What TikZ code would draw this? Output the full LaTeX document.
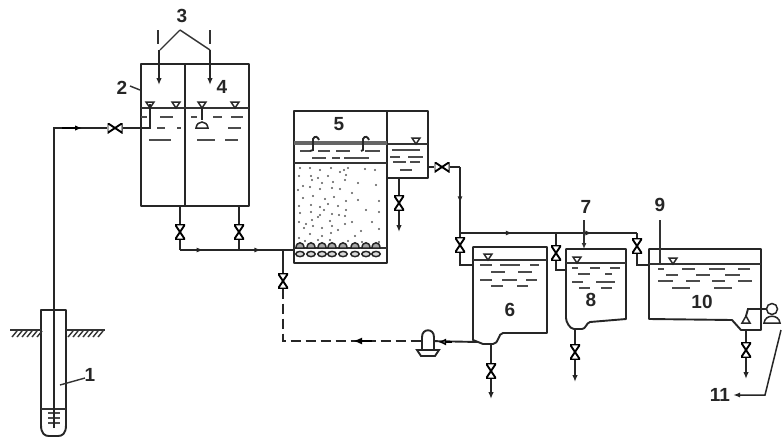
\documentclass[tikz,border=0pt]{standalone}
\usepackage{fontspec}
\setmainfont{Liberation Sans}
\usetikzlibrary{arrows.meta,decorations.markings}
\tikzset{
  x=1pt,y=-1pt,
  pipe/.style={line width=1.9pt,black!85},
  wall/.style={line width=1.9pt,black!85,line join=round},
  thin wall/.style={line width=1.4pt,black!80},
  dashpipe/.style={line width=2.1pt,black!85,dash pattern=on 10pt off 5pt},
  flow/.style={pipe,-{Latex[length=7pt,width=5.5pt]}},
  midflow/.style={postaction={decorate},decoration={markings,mark=at position #1 with {\arrow{Latex[length=7pt,width=5pt]}}}},
  lab/.style={font=\bfseries\fontsize{19}{19}\selectfont,text=black!85,inner sep=0pt},
  valveV/.style={inner sep=0pt,minimum width=10pt,minimum height=15pt,
    path picture={\draw[line width=1.9pt,fill=white]
      (path picture bounding box.north west)--(path picture bounding box.north east)
      --(path picture bounding box.south west)--(path picture bounding box.south east)--cycle;}},
  valveH/.style={inner sep=0pt,minimum width=15pt,minimum height=10pt,
    path picture={\draw[line width=1.9pt,fill=white]
      (path picture bounding box.north west)--(path picture bounding box.south west)
      --(path picture bounding box.north east)--(path picture bounding box.south east)--cycle;}},
  tick/.style={line width=1.3pt,black!70},
  lvl/.style={line width=1.5pt,black!85},
}
\newcommand{\wdash}[2]{\foreach \xa/\xb in {#2} \draw[tick] (\xa,#1) -- (\xb,#1);}
\newcommand{\lvlmark}[2]{\draw[lvl,fill=white] (#1-4,#2-6) -- (#1+4,#2-6) -- (#1,#2) -- cycle;}
\begin{document}
\begin{tikzpicture}
\useasboundingbox (0,0) rectangle (782,437);
\fill[white] (0,0) rectangle (782,437);

% named points
\coordinate (wellTop) at (54,428);
\coordinate (p1) at (54,128);
\coordinate (p2) at (150,128);
\coordinate (p3) at (150,104);
\coordinate (o2) at (180,206);
\coordinate (o4) at (239,206);
\coordinate (j2) at (180,250);
\coordinate (j4) at (239,250);
\coordinate (in5) at (295,250);
\coordinate (jd) at (283,250);
\coordinate (dcorner) at (283,341);
\coordinate (out5) at (428,167);
\coordinate (c5) at (460,167);
\coordinate (h0) at (460,233);
\coordinate (c6a) at (460,265);
\coordinate (in6) at (473,265);
\coordinate (h8) at (556,233);
\coordinate (c8) at (556,270);
\coordinate (in8) at (566,270);
\coordinate (h10) at (637,233);
\coordinate (c10) at (637,265);
\coordinate (in10) at (649,265);
\coordinate (o5) at (399,178);
\coordinate (e5) at (399,232);
\coordinate (o6) at (491,344);
\coordinate (e6) at (491,399);
\coordinate (o8) at (575,329);
\coordinate (e8) at (575,382);
\coordinate (o10) at (746,330);
\coordinate (e10) at (746,379);
\coordinate (in6p) at (478,342);

% well
\draw[wall] (41,425) -- (41,310) -- (66,310) -- (66,425);
\draw[wall] (41,425) .. controls (41,434) and (45,436) .. (49,436) -- (58,436) .. controls (62,436) and (66,434) .. (66,425);
\draw[thin wall] (10,330) -- (41,330) (66,330) -- (105,330);
\foreach \x in {12,17,...,37} \draw[thin wall] (\x,337) -- (\x+5,331);
\foreach \x in {68,73,...,98} \draw[thin wall] (\x,337) -- (\x+5,331);
\draw[thin wall] (41,409) -- (66,409);
\foreach \y in {413,418,423} \draw[tick] (48,\y) -- (60,\y);
\draw[thin wall] (60,385) -- (85,378);
\node[lab] (n1) at (90,375) {1};

% tanks 2 and 4
\node[draw,wall,inner sep=0pt,minimum width=44pt,minimum height=142pt] (t2) at (163,135) {};
\node[draw,wall,inner sep=0pt,minimum width=64pt,minimum height=142pt] (t4) at (217,135) {};
\draw[thin wall] (141,108) -- (249,108);
\wdash{117}{141/147,160/173,191/197,213/222,231/243}
\wdash{128}{157/165,177/181,228/241}
\wdash{140}{149/171,197/215,225/238}
\lvlmark{150}{108}\lvlmark{176}{108}\lvlmark{202}{108}\lvlmark{235}{108}
\draw[pipe] (202,108) -- (202,120);
\draw[lvl,fill=white] (196,128) .. controls (197,120) and (207,120) .. (208,128) -- cycle;
\node[lab] (n2) at (122,88) {2};
\draw[thin wall] (130,86) -- (140,90);
\node[lab] (n4) at (222,87) {4};
\node[lab] (n3) at (182,16) {3};
\draw[thin wall] (180,30) -- (160,50) (180,30) -- (210,50);
\coordinate (a3) at (159,50); \coordinate (b3) at (159,85);
\coordinate (a4) at (210,50); \coordinate (b4) at (210,85);
\draw[thin wall] (158,30) -- (158,44) (210,30) -- (210,44);
\draw[flow] (a3) -- (b3);
\draw[flow] (a4) -- (b4);

% inlet
\node[valveH] (v0) at (115,128) {};
\draw[pipe] (wellTop) -- (p1) -- (v0);
\draw[pipe] (v0) -- (p2) -- (p3);
\draw[-{Latex[length=7pt,width=5.5pt]},line width=1.5pt] (62,128) -- (82,128);

% outlets of 2 and 4
\node[valveV] (v2) at (180,232) {};
\node[valveV] (v4) at (239,232) {};
\draw[pipe] (o2) -- (v2) -- (j2);
\draw[pipe] (o4) -- (v4) -- (j4);
\draw[pipe,midflow=0.4] (j2) -- (j4);
\draw[pipe,midflow=0.4] (j4) -- (in5);

% tank 5
\node[draw,wall,inner sep=0pt,minimum width=93pt,minimum height=152pt] (t5) at (340.5,187) {};
\node[draw,wall,inner sep=0pt,minimum width=41pt,minimum height=67pt] (t5b) at (407.5,144.5) {};
\draw[line width=3.4pt,black!60] (294,143) -- (387,143);
\draw[thin wall] (294,163) -- (387,163);
\draw[thin wall] (294,248) -- (387,248);
\draw[thin wall] (387,144) -- (428,144);
\wdash{151}{300/310,318/330,336/350,365/380}
\wdash{158}{312/326,332/340,344/369}
\wdash{150}{392/420}
\wdash{157}{390/400,408/423}
\wdash{162}{393/406,410/420}
\wdash{170}{400/412}
\draw[lvl,line width=1.9pt] (310,151) -- (313,150) -- (313,139) .. controls (315,135) and (318,137) .. (319,140);
\draw[lvl,line width=1.9pt] (361,151) -- (363,150) -- (363,139) .. controls (365,135) and (368,137) .. (369,140);
\lvlmark{416}{144}
\node[lab] (n5) at (339,124) {5};
% sand
\foreach \x/\y in {300/168,310/168,320/170,331/168,344/170,348/168,365/169,375/170,
  299/176,311/176,318/178,328/176,340/172,346/175,
  303/186,312/180,322/183,333/182,345/180,358/183,
  298/190,310/187,320/189,332/188,340/189,
  303/198,313/196,325/199,334/197,346/201,
  299/206,311/205,320/207,328/204,346/210,358/200,376/185,
  300/213,311/212,320/215,332/214,339/215,345/216,379/201,
  299/222,306/224,318/217,330/221,345/224,379/212,
  304/228,313/226,322/228,332/226,361/231,
  299/238,310/234,322/236,331/233,355/236,379/229,
  305/241,318/240,330/240,379/242,348/241,
  312/220,324/210,338/206,352/193,366/210,372/222,362/242,338/230,352/222} \fill[black!65] (\x,\y) circle[radius=1.2pt];
\foreach \x in {300,311,322,332,343,355,366,376} {
  \draw[lvl,fill=black!35] (\x-4,248) .. controls (\x-4,241) and (\x+4,241) .. (\x+4,248) -- cycle;
  \draw[lvl,fill=black!15] (\x,254) ellipse[x radius=4.2pt,y radius=2.6pt];
}

% outlet of 5b
\node[valveV] (v5) at (399,203) {};
\draw[pipe] (o5) -- (v5);
\draw[flow] (v5) -- (e5);
\node[valveH] (v5r) at (442,167) {};
\draw[pipe] (out5) -- (v5r) -- (c5);
\node[valveV] (v6) at (460,245) {};
\draw[pipe,midflow=0.55] (c5) -- (h0);
\draw[pipe] (h0) -- (v6) -- (c6a) -- (in6);
\draw[pipe,midflow=0.55] (h0) -- (h8);
\draw[pipe,midflow=0.45] (h8) -- (h10);

% tank 6
\draw[wall] (473,247) -- (547,247) -- (547,333) -- (503,333) .. controls (498,333) and (499,344) .. (493,344) -- (483,344) -- (473,340) -- cycle;
\draw[thin wall] (473,260) -- (547,260);
\lvlmark{488}{260}
\wdash{265}{480/492,500/520,530/539}
\wdash{272}{491/505,518/532}
\wdash{280}{480/492,502/517,526/537}
\wdash{286}{491/503,517/528}
\node[lab] (n6) at (510,310) {6};
\node[valveV] (v6o) at (491,371) {};
\draw[pipe] (o6) -- (v6o);
\draw[flow] (v6o) -- (e6);

% tank 8
\draw[wall] (566,249) -- (626,249) -- (626,319) -- (590,322) .. controls (586,323) and (586,329) .. (582,329) -- (574,329) .. controls (570,329) and (566,322) .. (566,318) -- cycle;
\draw[thin wall] (566,263) -- (626,263);
\lvlmark{577}{263}
\wdash{268}{572/578,590/600,610/620}
\wdash{274}{578/590,605/612}
\wdash{282}{572/583,596/615}
\wdash{288}{579/590,601/612}
\node[lab] (n8) at (591,300) {8};
\node[lab] (n7) at (586,207) {7};
\draw[line width=1.4pt,black!80,-{Latex[length=6pt,width=5pt]}] (584,220) -- (584,249);
\node[valveV] (v8) at (556,253) {};
\draw[pipe] (h8) -- (v8) -- (c8) -- (in8);
\node[valveV] (v8o) at (575,352) {};
\draw[pipe] (o8) -- (v8o);
\draw[flow] (v8o) -- (e8);

% tank 10
\draw[wall] (649,249) -- (761,249) -- (761,330) -- (741,330) -- (732,320) -- (649,319) -- cycle;
\draw[thin wall] (649,264) -- (761,264);
\lvlmark{673}{264}
\wdash{269}{658/664,682/695,709/725,738/750}
\wdash{275}{666/678,696/710,725/740}
\wdash{281}{658/673,686/700,712/725,738/752}
\wdash{288}{672/690,714/732}
\node[lab] (n10) at (702,302) {10};
\node[lab] (n9) at (660,205) {9};
\draw[thin wall] (660,220) -- (660,264);
\node[valveV] (v10) at (637,246) {};
\draw[pipe] (h10) -- (v10) -- (c10) -- (in10);
\node[valveV] (v10o) at (746,350) {};
\draw[pipe] (o10) -- (v10o);
\draw[flow] (v10o) -- (e10);

% pump at tank 10
\node[draw,lvl,circle,inner sep=0pt,minimum size=11pt] (pu10) at (772,309) {};
\draw[lvl,fill=white] (764,323) .. controls (765,314) and (779,314) .. (780,323) -- cycle;
\draw[lvl,fill=white] (742,323) -- (746,316) -- (750,323) -- cycle;
\draw[pipe] (746,316) -- (748,309) -- (pu10);
\node[lab] (n11) at (720,395) {11};
\coordinate (f11) at (733,395);
\draw[line width=1.5pt,black!85,-{Latex[length=7pt,width=5pt]}] (781,330) -- (765,395) -- (f11);

% recycle
\node[valveV] (vd) at (283,281) {};
\draw[pipe] (jd) -- (vd);
\node[inner sep=0pt,minimum size=13pt] (pu6) at (428,341) {};
\draw[dashpipe] (vd) -- (dcorner) -- (pu6);
\draw[lvl,line width=1.9pt,fill=white] (422,351) -- (422,337) .. controls (422,328) and (434,328) .. (434,337) -- (434,351) -- cycle;
\draw[lvl,line width=1.9pt,fill=white] (417,350) -- (439,350) -- (435,356) -- (421,356) -- cycle;
\draw[-{Latex[length=9pt,width=7pt]},line width=1.9pt] (372,341) -- (353,341);
\draw[pipe] (pu6) -- (in6p);
\draw[-{Latex[length=8pt,width=7pt,open,fill=white]},line width=1.5pt] (452,342) -- (438,342);
\end{tikzpicture}
\end{document}
